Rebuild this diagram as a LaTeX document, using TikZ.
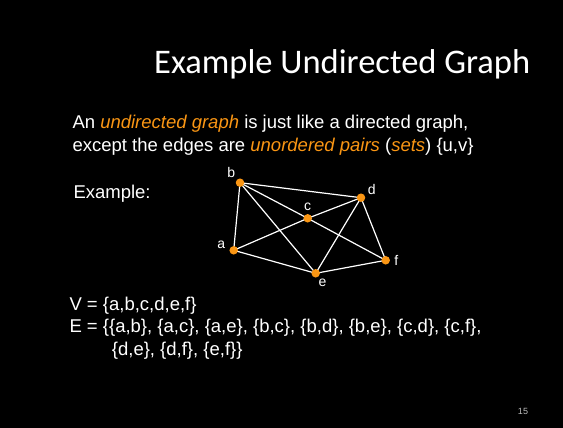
\documentclass[tikz,border=0pt]{standalone}
\usepackage{fontspec}
\setmainfont{Liberation Sans}
\newfontfamily\titlefont{Carlito}
\usepackage{tikz}
\usetikzlibrary{positioning, backgrounds}
\definecolor{slideorange}{RGB}{250,150,20}
\definecolor{pagegray}{RGB}{190,190,190}

\begin{document}
\begin{tikzpicture}[
  x=1pt, y=-1pt,
  every node/.style={text=white, inner sep=0pt},
  body/.style={anchor=base west, font=\fontsize{18.5}{23}\selectfont},
  vertex/.style={circle, fill=slideorange, minimum size=8.5pt},
  vlabel/.style={font=\fontsize{14}{16}\selectfont, text=white},
  edge/.style={draw=white, line width=1.2pt},
]
  \useasboundingbox (0,0) rectangle (563,428);

  % title
  \node[anchor=base west, font=\titlefont\fontsize{34.5}{41}\selectfont] (title) at (154,73.3) {Example Undirected Graph};

  % text
  \node[body] (line1) at (72.3,128.3) {An \textcolor{slideorange}{\itshape undirected graph} is just like a directed graph,};
  \node[body] (line2) at (72.3,151.7) {except the edges are \textcolor{slideorange}{\itshape unordered pairs} (\textcolor{slideorange}{\itshape sets}) \{u,v\}};
  \node[body] (ex) at (73.3,198.3) {Example:};

  % graph
  \node[vertex, label={[vlabel, label distance=2pt]135:b}] (b) at (240,182.7) {};
  \node[vertex, label={[vlabel, label distance=3pt]90:c}] (c) at (307.7,218.3) {};
  \node[vertex, label={[vlabel, label distance=3pt]25:d}] (d) at (361,197.7) {};
  \node[vertex, label={[vlabel, label distance=4pt]170:a}] (a) at (233.7,250.3) {};
  \node[vertex, label={[vlabel, label distance=2pt]-65:e}] (e) at (315.7,273.3) {};
  \node[vertex, label={[vlabel, label distance=4pt]0:f}] (f) at (385.7,260.3) {};

  \begin{pgfonlayer}{background}
    \fill[black] (0,0) rectangle (563,428);
    \foreach \u/\v in {a/b, a/c, a/e, b/c, b/d, b/e, c/d, c/f, d/e, d/f, e/f}
      \draw[edge] (\u.center) -- (\v.center);
  \end{pgfonlayer}

  % sets
  \node[body] (vset) at (69.3,310.7) {V = \{a,b,c,d,e,f\}};
  \node[body] (eset) at (69.3,332.7) {E = \{\{a,b\}, \{a,c\}, \{a,e\}, \{b,c\}, \{b,d\}, \{b,e\}, \{c,d\}, \{c,f\},};
  \node[body] (eset2) at (111.7,355) {\{d,e\}, \{d,f\}, \{e,f\}\}};

  % page number
  \node[text=pagegray, font=\rmfamily\fontsize{9}{10}\selectfont] (page) at (523,411) {15};
\end{tikzpicture}
\end{document}
